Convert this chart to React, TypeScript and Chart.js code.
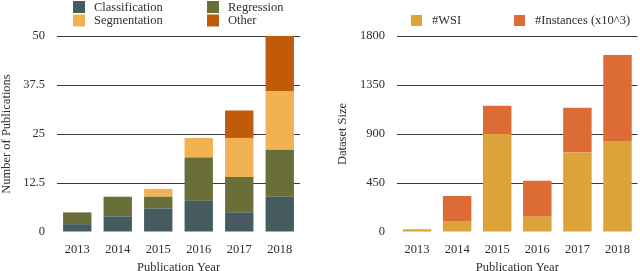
import React, { useEffect, useRef } from "react";
import { Chart, registerables } from "chart.js";

Chart.register(...registerables);

const years = ["2013", "2014", "2015", "2016", "2017", "2018"];
const classification = [2, 4, 6, 8, 5, 9];
const regression = [3, 5, 3, 11, 9, 12];
const segmentation = [0, 0, 2, 5, 10, 15];
const other = [0, 0, 0, 0, 7, 14];
const pubTicks = [0, 12.5, 25, 37.5, 50];

const wsi = [25, 100, 900, 140, 730, 835];
const instances = [0, 230, 260, 330, 410, 790];
const sizeTicks = [0, 450, 900, 1350, 1800];

const FONT = '"Liberation Serif", "Times New Roman", serif';
const TEXT = "#2e2e2e";
const CANVAS_H = 275;

const gridLegend = {
  id: "gridLegend",
  afterDraw(chart: any, _args: any, opts: any) {
    const ctx = chart.ctx;
    const { cols, x0, colW, y0, rowH, box, gap } = opts;
    ctx.save();
    chart.data.datasets.forEach((ds: any, i: number) => {
      const c = i % cols;
      const r = Math.floor(i / cols);
      const x = x0 + c * colW;
      const y = y0 + r * rowH;
      ctx.fillStyle = ds.backgroundColor;
      ctx.fillRect(x, y - box / 2, box, box);
      ctx.fillStyle = TEXT;
      ctx.font = `12.5px ${FONT}`;
      ctx.textBaseline = "middle";
      ctx.textAlign = "left";
      ctx.fillText(ds.label, x + box + gap, y + 0.5);
    });
    ctx.restore();
  },
};

function makeConfig(
  datasets: any[],
  ticks: number[],
  yTitle: string,
  yWidth: number,
  titlePad: number,
  padLeft: number,
  padRight: number,
  legend: any,
  barPct: number
): any {
  return {
    type: "bar",
    data: {
      labels: years,
      datasets: datasets.map((d) => ({ ...d, borderWidth: 0, barPercentage: barPct, categoryPercentage: 1 })),
    },
    plugins: [gridLegend],
    options: {
      responsive: false,
      animation: false,
      devicePixelRatio: 1,
      layout: { padding: { top: 36, left: padLeft, right: padRight, bottom: 0 } },
      plugins: {
        legend: { display: false },
        tooltip: { enabled: false },
        gridLegend: legend,
      },
      scales: {
        x: {
          stacked: true,
          grid: { display: false, drawTicks: false },
          border: { display: false },
          ticks: { color: TEXT, font: { family: FONT, size: 12.5 }, padding: 10, maxRotation: 0 },
          title: {
            display: true,
            text: "Publication Year",
            color: TEXT,
            font: { family: FONT, size: 12.5 },
            padding: { top: 0, bottom: 0 },
          },
          afterFit: (s: any) => {
            s.height = CANVAS_H - 232;
          },
        },
        y: {
          stacked: true,
          min: ticks[0],
          max: ticks[ticks.length - 1],
          afterBuildTicks: (s: any) => {
            s.ticks = ticks.map((v) => ({ value: v }));
          },
          grid: {
            drawTicks: false,
            color: (c: any) => (c.tick && c.tick.value === 0 ? "rgba(0,0,0,0)" : "#3a3a3a"),
            lineWidth: 1,
          },
          border: { display: false },
          ticks: {
            color: TEXT,
            font: { family: FONT, size: 12.5 },
            padding: 12,
            callback: (v: any) => String(v),
          },
          title: {
            display: true,
            text: yTitle,
            color: TEXT,
            font: { family: FONT, size: 12.5, lineHeight: 1 },
            padding: { top: titlePad, bottom: 0 },
          },
          afterFit: (s: any) => {
            s.width = yWidth;
          },
        },
      },
    },
  };
}

function ChartCanvas({ config }: { config: any }) {
  const ref = useRef<HTMLCanvasElement | null>(null);
  useEffect(() => {
    if (!ref.current) return;
    const chart = new Chart(ref.current, config);
    return () => chart.destroy();
  }, [config]);
  return (
    <canvas
      ref={ref}
      width={320}
      height={CANVAS_H}
      style={{ display: "block", width: 320, height: CANVAS_H }}
    />
  );
}

const leftConfig = makeConfig(
  [
    { label: "Classification", data: classification, backgroundColor: "#465b5f" },
    { label: "Regression", data: regression, backgroundColor: "#6a6f39" },
    { label: "Segmentation", data: segmentation, backgroundColor: "#f0b252" },
    { label: "Other", data: other, backgroundColor: "#c05b0b" },
  ],
  pubTicks,
  "Number of Publications",
  57,
  0,
  0,
  20,
  { cols: 2, x0: 73, colW: 134, y0: 7, rowH: 13.5, box: 12, gap: 9 },
  0.7
);

const rightConfig = makeConfig(
  [
    { label: "#WSI", data: wsi, backgroundColor: "#dca33b" },
    { label: "#Instances (x10^3)", data: instances, backgroundColor: "#dd6b36" },
  ],
  sizeTicks,
  "Dataset Size",
  77,
  16,
  0,
  0,
  { cols: 2, x0: 91, colW: 103, y0: 20.5, rowH: 14, box: 11, gap: 10 },
  0.71
);

export default function App() {
  useEffect(() => {
    document.body.style.margin = "0";
  }, []);
  return (
    <div
      style={{
        position: "absolute",
        left: 0,
        top: 0,
        width: 640,
        height: 271,
        overflow: "hidden",
        display: "flex",
        background: "#fff",
      }}
    >
      <ChartCanvas config={leftConfig} />
      <ChartCanvas config={rightConfig} />
    </div>
  );
}
